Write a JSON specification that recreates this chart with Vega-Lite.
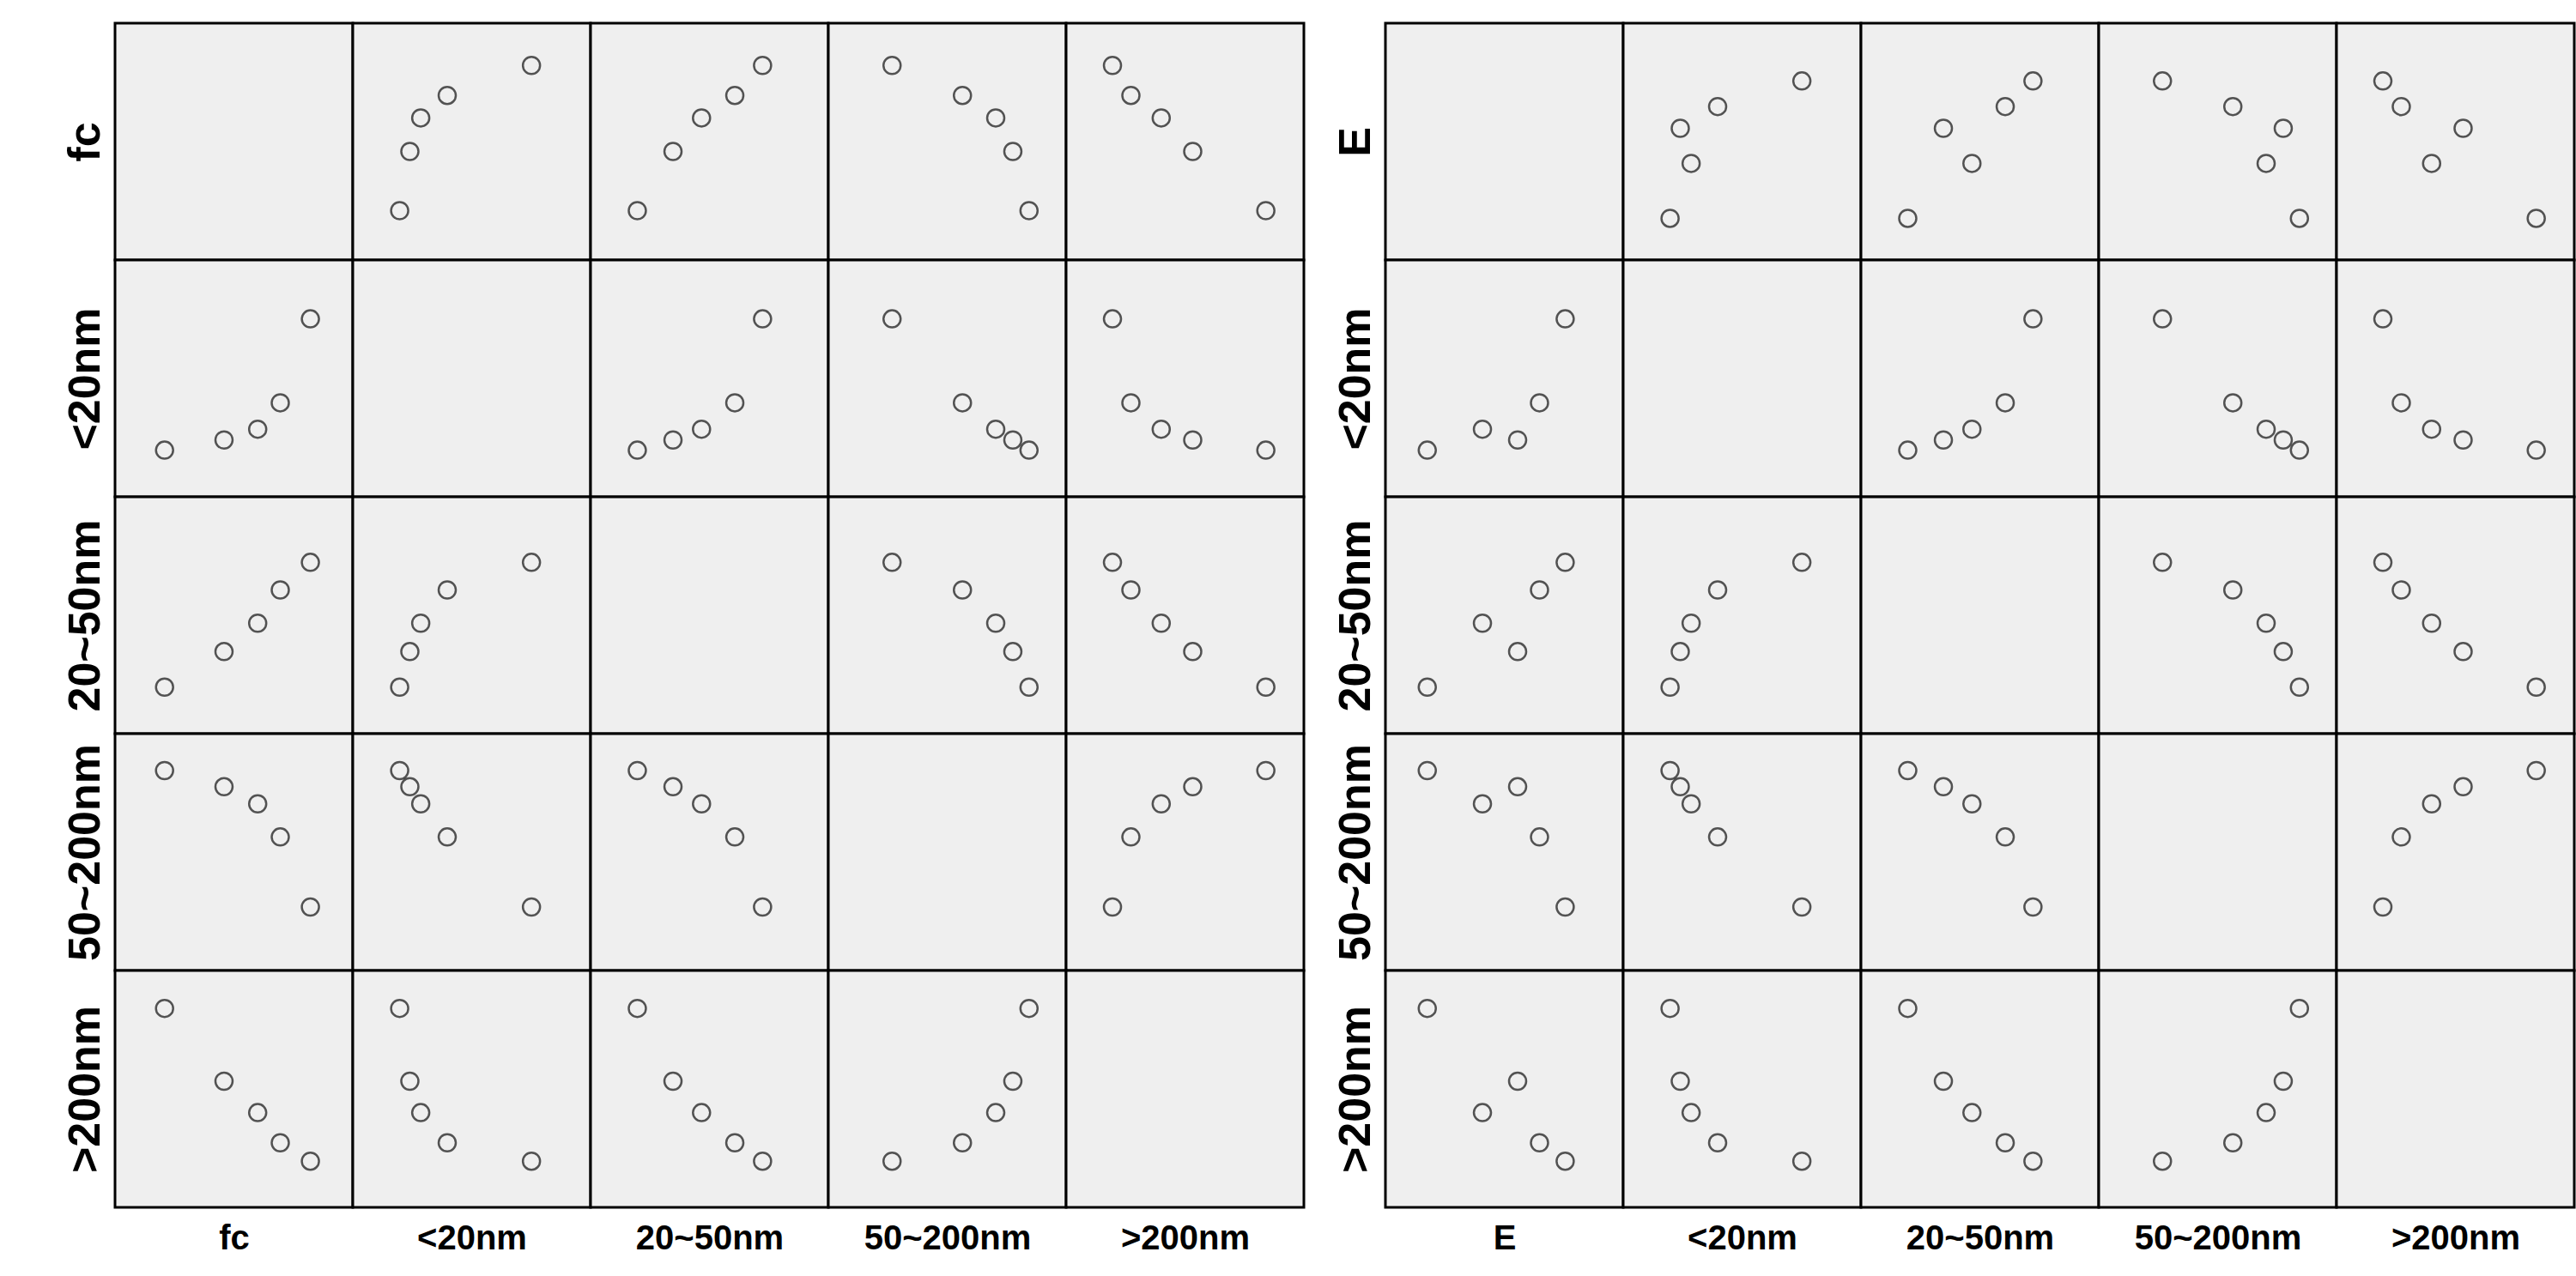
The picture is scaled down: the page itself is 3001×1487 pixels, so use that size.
{
"$schema": "https://vega.github.io/schema/vega-lite/v6.json",
"background": "white",
"padding": {"left": 71, "top": 25, "right": 0, "bottom": 0},
"data": {"values": [
{"obs": 1, "fc": 32.5, "E": 29.4, "s20": 16.9, "s50": 15.9, "s200": 36.1, "s200p": 33.6},
{"obs": 2, "fc": 47.5, "E": 38.9, "s20": 18.4, "s50": 20.4, "s200": 34.4, "s200p": 21.3},
{"obs": 3, "fc": 56.0, "E": 35.2, "s20": 20.0, "s50": 24.0, "s200": 32.6, "s200p": 16.0},
{"obs": 4, "fc": 61.7, "E": 41.2, "s20": 23.9, "s50": 28.2, "s200": 29.1, "s200p": 10.9},
{"obs": 5, "fc": 69.3, "E": 43.9, "s20": 36.3, "s50": 31.7, "s200": 21.7, "s200p": 7.8}
]},
"spacing": 30,
"hconcat": [
{"columns": 5, "spacing": 0, "bounds": "flush", "concat": [
  {"mark": {"type": "point", "opacity": 0}, "encoding": {"x": {"field": "fc", "type": "quantitative", "scale": {"domain": [20, 80], "nice": false}, "axis": null}, "y": {"field": "fc", "type": "quantitative", "scale": {"domain": [20, 80], "nice": false}, "axis": {"title": "fc"}}}},
  {"mark": "point", "encoding": {"x": {"field": "s20", "type": "quantitative", "scale": {"domain": [10, 45], "nice": false}, "axis": null}, "y": {"field": "fc", "type": "quantitative", "scale": {"domain": [20, 80], "nice": false}, "axis": null}}},
  {"mark": "point", "encoding": {"x": {"field": "s50", "type": "quantitative", "scale": {"domain": [10, 40], "nice": false}, "axis": null}, "y": {"field": "fc", "type": "quantitative", "scale": {"domain": [20, 80], "nice": false}, "axis": null}}},
  {"mark": "point", "encoding": {"x": {"field": "s200", "type": "quantitative", "scale": {"domain": [15, 40], "nice": false}, "axis": null}, "y": {"field": "fc", "type": "quantitative", "scale": {"domain": [20, 80], "nice": false}, "axis": null}}},
  {"mark": "point", "encoding": {"x": {"field": "s200p", "type": "quantitative", "scale": {"domain": [0, 40], "nice": false}, "axis": null}, "y": {"field": "fc", "type": "quantitative", "scale": {"domain": [20, 80], "nice": false}, "axis": null}}},
  {"mark": "point", "encoding": {"x": {"field": "fc", "type": "quantitative", "scale": {"domain": [20, 80], "nice": false}, "axis": null}, "y": {"field": "s20", "type": "quantitative", "scale": {"domain": [10, 45], "nice": false}, "axis": {"title": "<20nm"}}}},
  {"mark": {"type": "point", "opacity": 0}, "encoding": {"x": {"field": "s20", "type": "quantitative", "scale": {"domain": [10, 45], "nice": false}, "axis": null}, "y": {"field": "s20", "type": "quantitative", "scale": {"domain": [10, 45], "nice": false}, "axis": null}}},
  {"mark": "point", "encoding": {"x": {"field": "s50", "type": "quantitative", "scale": {"domain": [10, 40], "nice": false}, "axis": null}, "y": {"field": "s20", "type": "quantitative", "scale": {"domain": [10, 45], "nice": false}, "axis": null}}},
  {"mark": "point", "encoding": {"x": {"field": "s200", "type": "quantitative", "scale": {"domain": [15, 40], "nice": false}, "axis": null}, "y": {"field": "s20", "type": "quantitative", "scale": {"domain": [10, 45], "nice": false}, "axis": null}}},
  {"mark": "point", "encoding": {"x": {"field": "s200p", "type": "quantitative", "scale": {"domain": [0, 40], "nice": false}, "axis": null}, "y": {"field": "s20", "type": "quantitative", "scale": {"domain": [10, 45], "nice": false}, "axis": null}}},
  {"mark": "point", "encoding": {"x": {"field": "fc", "type": "quantitative", "scale": {"domain": [20, 80], "nice": false}, "axis": null}, "y": {"field": "s50", "type": "quantitative", "scale": {"domain": [10, 40], "nice": false}, "axis": {"title": "20~50nm"}}}},
  {"mark": "point", "encoding": {"x": {"field": "s20", "type": "quantitative", "scale": {"domain": [10, 45], "nice": false}, "axis": null}, "y": {"field": "s50", "type": "quantitative", "scale": {"domain": [10, 40], "nice": false}, "axis": null}}},
  {"mark": {"type": "point", "opacity": 0}, "encoding": {"x": {"field": "s50", "type": "quantitative", "scale": {"domain": [10, 40], "nice": false}, "axis": null}, "y": {"field": "s50", "type": "quantitative", "scale": {"domain": [10, 40], "nice": false}, "axis": null}}},
  {"mark": "point", "encoding": {"x": {"field": "s200", "type": "quantitative", "scale": {"domain": [15, 40], "nice": false}, "axis": null}, "y": {"field": "s50", "type": "quantitative", "scale": {"domain": [10, 40], "nice": false}, "axis": null}}},
  {"mark": "point", "encoding": {"x": {"field": "s200p", "type": "quantitative", "scale": {"domain": [0, 40], "nice": false}, "axis": null}, "y": {"field": "s50", "type": "quantitative", "scale": {"domain": [10, 40], "nice": false}, "axis": null}}},
  {"mark": "point", "encoding": {"x": {"field": "fc", "type": "quantitative", "scale": {"domain": [20, 80], "nice": false}, "axis": null}, "y": {"field": "s200", "type": "quantitative", "scale": {"domain": [15, 40], "nice": false}, "axis": {"title": "50~200nm"}}}},
  {"mark": "point", "encoding": {"x": {"field": "s20", "type": "quantitative", "scale": {"domain": [10, 45], "nice": false}, "axis": null}, "y": {"field": "s200", "type": "quantitative", "scale": {"domain": [15, 40], "nice": false}, "axis": null}}},
  {"mark": "point", "encoding": {"x": {"field": "s50", "type": "quantitative", "scale": {"domain": [10, 40], "nice": false}, "axis": null}, "y": {"field": "s200", "type": "quantitative", "scale": {"domain": [15, 40], "nice": false}, "axis": null}}},
  {"mark": {"type": "point", "opacity": 0}, "encoding": {"x": {"field": "s200", "type": "quantitative", "scale": {"domain": [15, 40], "nice": false}, "axis": null}, "y": {"field": "s200", "type": "quantitative", "scale": {"domain": [15, 40], "nice": false}, "axis": null}}},
  {"mark": "point", "encoding": {"x": {"field": "s200p", "type": "quantitative", "scale": {"domain": [0, 40], "nice": false}, "axis": null}, "y": {"field": "s200", "type": "quantitative", "scale": {"domain": [15, 40], "nice": false}, "axis": null}}},
  {"mark": "point", "encoding": {"x": {"field": "fc", "type": "quantitative", "scale": {"domain": [20, 80], "nice": false}, "axis": {"title": "fc"}}, "y": {"field": "s200p", "type": "quantitative", "scale": {"domain": [0, 40], "nice": false}, "axis": {"title": ">200nm"}}}},
  {"mark": "point", "encoding": {"x": {"field": "s20", "type": "quantitative", "scale": {"domain": [10, 45], "nice": false}, "axis": {"title": "<20nm"}}, "y": {"field": "s200p", "type": "quantitative", "scale": {"domain": [0, 40], "nice": false}, "axis": null}}},
  {"mark": "point", "encoding": {"x": {"field": "s50", "type": "quantitative", "scale": {"domain": [10, 40], "nice": false}, "axis": {"title": "20~50nm"}}, "y": {"field": "s200p", "type": "quantitative", "scale": {"domain": [0, 40], "nice": false}, "axis": null}}},
  {"mark": "point", "encoding": {"x": {"field": "s200", "type": "quantitative", "scale": {"domain": [15, 40], "nice": false}, "axis": {"title": "50~200nm"}}, "y": {"field": "s200p", "type": "quantitative", "scale": {"domain": [0, 40], "nice": false}, "axis": null}}},
  {"mark": {"type": "point", "opacity": 0}, "encoding": {"x": {"field": "s200p", "type": "quantitative", "scale": {"domain": [0, 40], "nice": false}, "axis": {"title": ">200nm"}}, "y": {"field": "s200p", "type": "quantitative", "scale": {"domain": [0, 40], "nice": false}, "axis": null}}}
]},
{"columns": 5, "spacing": 0, "bounds": "flush", "concat": [
  {"mark": {"type": "point", "opacity": 0}, "encoding": {"x": {"field": "E", "type": "quantitative", "scale": {"domain": [25, 50], "nice": false}, "axis": null}, "y": {"field": "E", "type": "quantitative", "scale": {"domain": [25, 50], "nice": false}, "axis": {"title": "E"}}}},
  {"mark": "point", "encoding": {"x": {"field": "s20", "type": "quantitative", "scale": {"domain": [10, 45], "nice": false}, "axis": null}, "y": {"field": "E", "type": "quantitative", "scale": {"domain": [25, 50], "nice": false}, "axis": null}}},
  {"mark": "point", "encoding": {"x": {"field": "s50", "type": "quantitative", "scale": {"domain": [10, 40], "nice": false}, "axis": null}, "y": {"field": "E", "type": "quantitative", "scale": {"domain": [25, 50], "nice": false}, "axis": null}}},
  {"mark": "point", "encoding": {"x": {"field": "s200", "type": "quantitative", "scale": {"domain": [15, 40], "nice": false}, "axis": null}, "y": {"field": "E", "type": "quantitative", "scale": {"domain": [25, 50], "nice": false}, "axis": null}}},
  {"mark": "point", "encoding": {"x": {"field": "s200p", "type": "quantitative", "scale": {"domain": [0, 40], "nice": false}, "axis": null}, "y": {"field": "E", "type": "quantitative", "scale": {"domain": [25, 50], "nice": false}, "axis": null}}},
  {"mark": "point", "encoding": {"x": {"field": "E", "type": "quantitative", "scale": {"domain": [25, 50], "nice": false}, "axis": null}, "y": {"field": "s20", "type": "quantitative", "scale": {"domain": [10, 45], "nice": false}, "axis": {"title": "<20nm"}}}},
  {"mark": {"type": "point", "opacity": 0}, "encoding": {"x": {"field": "s20", "type": "quantitative", "scale": {"domain": [10, 45], "nice": false}, "axis": null}, "y": {"field": "s20", "type": "quantitative", "scale": {"domain": [10, 45], "nice": false}, "axis": null}}},
  {"mark": "point", "encoding": {"x": {"field": "s50", "type": "quantitative", "scale": {"domain": [10, 40], "nice": false}, "axis": null}, "y": {"field": "s20", "type": "quantitative", "scale": {"domain": [10, 45], "nice": false}, "axis": null}}},
  {"mark": "point", "encoding": {"x": {"field": "s200", "type": "quantitative", "scale": {"domain": [15, 40], "nice": false}, "axis": null}, "y": {"field": "s20", "type": "quantitative", "scale": {"domain": [10, 45], "nice": false}, "axis": null}}},
  {"mark": "point", "encoding": {"x": {"field": "s200p", "type": "quantitative", "scale": {"domain": [0, 40], "nice": false}, "axis": null}, "y": {"field": "s20", "type": "quantitative", "scale": {"domain": [10, 45], "nice": false}, "axis": null}}},
  {"mark": "point", "encoding": {"x": {"field": "E", "type": "quantitative", "scale": {"domain": [25, 50], "nice": false}, "axis": null}, "y": {"field": "s50", "type": "quantitative", "scale": {"domain": [10, 40], "nice": false}, "axis": {"title": "20~50nm"}}}},
  {"mark": "point", "encoding": {"x": {"field": "s20", "type": "quantitative", "scale": {"domain": [10, 45], "nice": false}, "axis": null}, "y": {"field": "s50", "type": "quantitative", "scale": {"domain": [10, 40], "nice": false}, "axis": null}}},
  {"mark": {"type": "point", "opacity": 0}, "encoding": {"x": {"field": "s50", "type": "quantitative", "scale": {"domain": [10, 40], "nice": false}, "axis": null}, "y": {"field": "s50", "type": "quantitative", "scale": {"domain": [10, 40], "nice": false}, "axis": null}}},
  {"mark": "point", "encoding": {"x": {"field": "s200", "type": "quantitative", "scale": {"domain": [15, 40], "nice": false}, "axis": null}, "y": {"field": "s50", "type": "quantitative", "scale": {"domain": [10, 40], "nice": false}, "axis": null}}},
  {"mark": "point", "encoding": {"x": {"field": "s200p", "type": "quantitative", "scale": {"domain": [0, 40], "nice": false}, "axis": null}, "y": {"field": "s50", "type": "quantitative", "scale": {"domain": [10, 40], "nice": false}, "axis": null}}},
  {"mark": "point", "encoding": {"x": {"field": "E", "type": "quantitative", "scale": {"domain": [25, 50], "nice": false}, "axis": null}, "y": {"field": "s200", "type": "quantitative", "scale": {"domain": [15, 40], "nice": false}, "axis": {"title": "50~200nm"}}}},
  {"mark": "point", "encoding": {"x": {"field": "s20", "type": "quantitative", "scale": {"domain": [10, 45], "nice": false}, "axis": null}, "y": {"field": "s200", "type": "quantitative", "scale": {"domain": [15, 40], "nice": false}, "axis": null}}},
  {"mark": "point", "encoding": {"x": {"field": "s50", "type": "quantitative", "scale": {"domain": [10, 40], "nice": false}, "axis": null}, "y": {"field": "s200", "type": "quantitative", "scale": {"domain": [15, 40], "nice": false}, "axis": null}}},
  {"mark": {"type": "point", "opacity": 0}, "encoding": {"x": {"field": "s200", "type": "quantitative", "scale": {"domain": [15, 40], "nice": false}, "axis": null}, "y": {"field": "s200", "type": "quantitative", "scale": {"domain": [15, 40], "nice": false}, "axis": null}}},
  {"mark": "point", "encoding": {"x": {"field": "s200p", "type": "quantitative", "scale": {"domain": [0, 40], "nice": false}, "axis": null}, "y": {"field": "s200", "type": "quantitative", "scale": {"domain": [15, 40], "nice": false}, "axis": null}}},
  {"mark": "point", "encoding": {"x": {"field": "E", "type": "quantitative", "scale": {"domain": [25, 50], "nice": false}, "axis": {"title": "E"}}, "y": {"field": "s200p", "type": "quantitative", "scale": {"domain": [0, 40], "nice": false}, "axis": {"title": ">200nm"}}}},
  {"mark": "point", "encoding": {"x": {"field": "s20", "type": "quantitative", "scale": {"domain": [10, 45], "nice": false}, "axis": {"title": "<20nm"}}, "y": {"field": "s200p", "type": "quantitative", "scale": {"domain": [0, 40], "nice": false}, "axis": null}}},
  {"mark": "point", "encoding": {"x": {"field": "s50", "type": "quantitative", "scale": {"domain": [10, 40], "nice": false}, "axis": {"title": "20~50nm"}}, "y": {"field": "s200p", "type": "quantitative", "scale": {"domain": [0, 40], "nice": false}, "axis": null}}},
  {"mark": "point", "encoding": {"x": {"field": "s200", "type": "quantitative", "scale": {"domain": [15, 40], "nice": false}, "axis": {"title": "50~200nm"}}, "y": {"field": "s200p", "type": "quantitative", "scale": {"domain": [0, 40], "nice": false}, "axis": null}}},
  {"mark": {"type": "point", "opacity": 0}, "encoding": {"x": {"field": "s200p", "type": "quantitative", "scale": {"domain": [0, 40], "nice": false}, "axis": {"title": ">200nm"}}, "y": {"field": "s200p", "type": "quantitative", "scale": {"domain": [0, 40], "nice": false}, "axis": null}}}
]}
],
"config": {
 "view": {"continuousWidth": 277, "continuousHeight": 276, "fill": "#efefef", "stroke": "#000000", "strokeWidth": 3},
 "point": {"filled": false, "shape": "circle", "size": 400, "stroke": "#111111", "strokeWidth": 2.5},
 "axis": {"domain": false, "ticks": false, "labels": false, "grid": false, "titleFontWeight": "bold", "titleColor": "#000000"},
 "axisX": {"titleFont": "Liberation Sans Narrow, Liberation Sans", "titleFontSize": 40, "titlePadding": 16},
 "axisY": {"titleFont": "Liberation Sans", "titleFontSize": 52, "titlePadding": 8}
}
}
